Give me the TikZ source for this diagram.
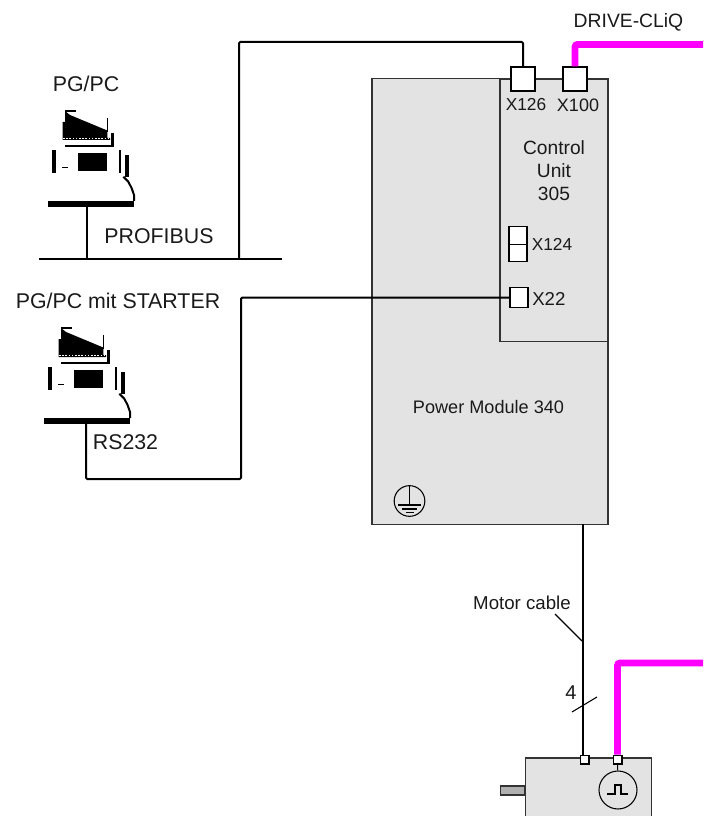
\documentclass[tikz,border=0pt]{standalone}
\usepackage{fontspec}
\setmainfont{Liberation Sans}
\usepackage{xcolor}
\usetikzlibrary{positioning}
\definecolor{cabinet}{RGB}{227, 227, 227}
\definecolor{cliq}{RGB}{255, 0, 255}
\definecolor{shaft}{RGB}{176, 176, 176}
\definecolor{ink}{RGB}{26, 26, 26}

\tikzset{
    pgpc/.pic={
        % keyboard bar and the screen above it
        \node[bar] (-bar) at (43,3) {};
        \fill (14.7,-61) -- (14.7,-79) -- (17,-79) -- (17,-90) -- (22,-86) -- (59.3,-70.5) -- (59.3,-63) -- (62,-63) -- (62,-61) -- cycle;
        \fill (17,-91.3) rectangle (28,-89.3);
        \fill (58.5,-83) rectangle (60.3,-69);
        \draw[white, line width=0.7pt, dash pattern=on 1.2pt off 1.2pt] (15,-62.3) -- (62,-62.3);
        \draw[line width=2pt] (64.3,-68.3) -- (64.3,-55) -- (17,-55);
        % housing
        \fill (4.3,-51) rectangle (7.7,-28.3);
        \fill (14.3,-34.3) rectangle (20.3,-32.7);
        \fill (30.3,-48.3) rectangle (58.7,-30.3);
        \fill (70.7,-51) rectangle (73,-28.3);
        \fill (77.3,-46) rectangle (80.7,-24.3);
        \draw[line width=1.5pt] (75.3,-24.3) -- (80.3,-19.3) -- (83.7,-12.7) -- (86,-6) -- (86,0);
    }
}

\begin{document}
\begin{tikzpicture}[
    x=0.75pt, y=-0.75pt,
    lab/.style={font=\fontsize{14}{17}\selectfont, text=ink, inner sep=0pt},
    biglab/.style={lab, font=\fontsize{16}{19}\selectfont},
    portlab/.style={lab, font=\fontsize{13}{16}\selectfont},
    bar/.style={rectangle, fill=black, inner sep=0pt, minimum width=64.5pt, minimum height=4.5pt},
    wire/.style={line width=1.5pt, draw=black},
    cliqline/.style={line width=5.2pt, draw=cliq, rounded corners=2pt},
    housing/.style={rectangle, draw=black!80, line width=0.9pt, fill=cabinet, inner sep=0pt},
    port/.style={rectangle, draw=black, line width=0.9pt, fill=white, inner sep=0pt, minimum width=18pt, minimum height=18pt},
    smallport/.style={port, minimum width=6.6pt, minimum height=6.6pt}
]

\clip (0,0) rectangle (703,816);
\useasboundingbox (0,0) rectangle (703,816);

% cabinet
\node[housing, minimum width=177pt, minimum height=334pt] (pm) at (490,301.5) {};
\node[housing, minimum width=81pt, minimum height=197pt] (cu) at (554,210.5) {};
\node[lab, align=center, font=\fontsize{14.4}{17}\selectfont] (culab) at (554,170.5) {Control\\Unit\\305};
\node[lab, font=\fontsize{13.6}{16}\selectfont] (pmlab) at (488.5,407) {Power Module 340};

% earth symbol
\node[circle, draw=black, line width=0.8pt, minimum size=23pt, inner sep=0pt] (earth) at (409.5,501) {};
\draw[line width=0.8pt] (earth.north) -- (409.5,505) (398,505) -- (421,505) (402,509) -- (417,509) (405.5,512.5) -- (413.5,512.5);

% ports
\node[port] (x126) at (523,79) {};
\node[port] (x100) at (575,79) {};
\node[port, minimum width=13.5pt, minimum height=13pt] (x124a) at (518,235.5) {};
\node[port, minimum width=13.5pt, minimum height=13pt] (x124b) at (518,253) {};
\node[port, minimum width=13.5pt, minimum height=15.5pt] (x22) at (519,297.5) {};
\node[portlab] (x126lab) at (526,105) {X126};
\node[portlab, font=\fontsize{13.5}{16}\selectfont] (x100lab) at (578,105) {X100};
\node[portlab, anchor=west] (x124lab) at (531.5,244) {X124};
\node[lab, anchor=west] (x22lab) at (532,298.5) {X22};

% PCs
\pic (pca) at (48,201) {pgpc};
\pic (pcb) at (44,418) {pgpc};
\node[biglab] (pcalab) at (86,84) {PG/PC};
\node[biglab] (pcblab) at (118,301) {PG/PC mit STARTER};
\node[biglab] (dplab) at (159,236) {PROFIBUS};
\node[biglab] (rslab) at (125.5,442) {RS232};

\coordinate (busl) at (39,259);
\coordinate (busr) at (282,259);
\coordinate (pcatap) at (87,207);
\coordinate (pcbtap) at (86,424);
\coordinate (dptap) at (239,259);
\coordinate (rsturn) at (241,479);

\draw[wire] (busl) -- (busr);
\draw[wire] (pcatap) -- (pcatap |- busl);
\draw[wire, rounded corners=1pt] (dptap) |- (523,42) -- (x126.north);
\draw[wire, rounded corners=1pt] (pcbtap) |- (rsturn) |- (x22.west);

% motor
\node[housing, minimum width=94pt, minimum height=60pt] (motor) at (588.5,798) {};
\node[rectangle, draw=black!80, line width=0.9pt, fill=shaft, inner sep=0pt, minimum width=18pt, minimum height=6.7pt, anchor=east] (shaftnode) at (motor.west |- 0,790.5) {};
\node[smallport] (mtpow) at (584.5,759.5) {};
\node[smallport] (mtenc) at (617.5,759.5) {};
\node[circle, draw=black, line width=0.8pt, fill=cabinet, minimum size=28.5pt, inner sep=0pt] (encoder) at (618,790) {};
\draw[line width=0.8pt] (mtenc) -- (encoder);
\draw[line width=0.8pt] (607,794) -- (615,794) -- (615,785) -- (621,785) -- (621,794) -- (628,794);

% cables
\coordinate (cliqa) at (703,44.5);
\coordinate (cliqb) at (703,663);
\draw[cliqline] (x100.north) |- (cliqa);
\draw[cliqline] (mtenc.north) |- (cliqb);
\node[lab, font=\fontsize{14.5}{17}\selectfont] (cliqlab) at (628.5,22) {DRIVE-CLiQ};

\coordinate (pmout) at (583,524);
\draw[wire] (pmout) -- (pmout |- mtpow.north);
\node[lab] (cablelab) at (522,603) {Motor cable};
\coordinate (cableend) at (582,641);
\coordinate (cablestart) at (555,614);
\draw[line width=0.8pt] (cablestart) -- (cableend);
\node[lab, font=\fontsize{15}{18}\selectfont] (fourlab) at (571,693) {4};
\coordinate (slasha) at (572,712);
\coordinate (slashb) at (597,697);
\draw[line width=0.8pt] (slasha) -- (slashb);

\end{tikzpicture}
\end{document}
